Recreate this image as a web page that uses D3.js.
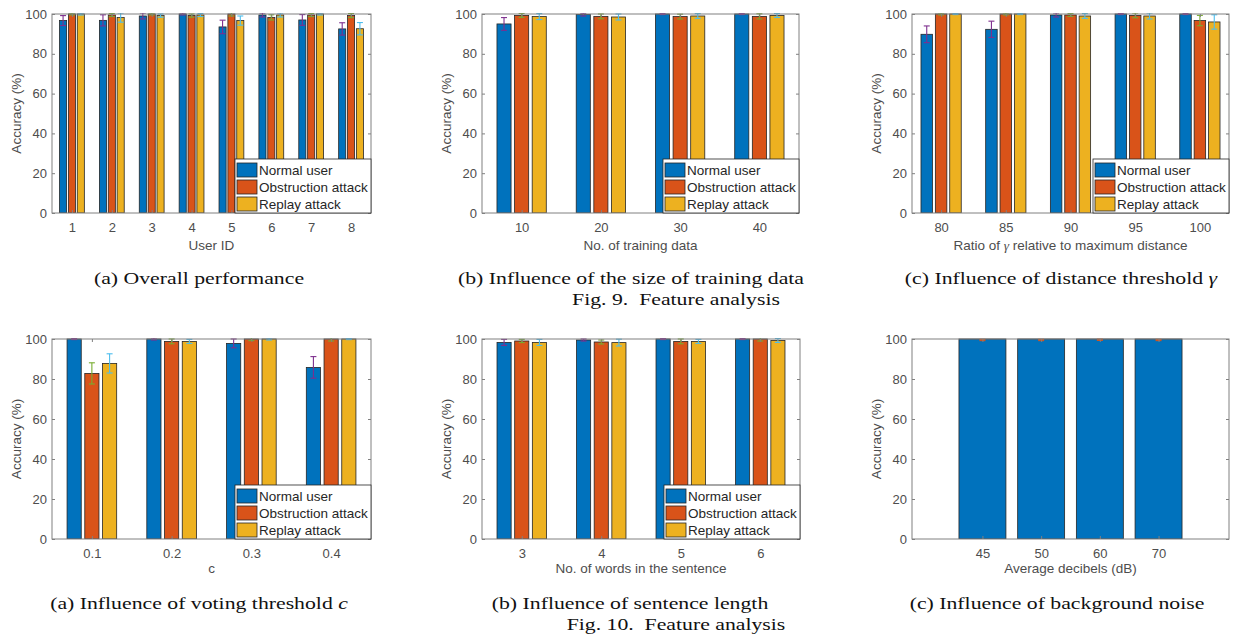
<!DOCTYPE html>
<html>
<head>
<meta charset="utf-8">
<script src="https://cdn.jsdelivr.net/npm/d3@7"></script>
<style>
  body { margin: 0; background: #fff; }
  svg { display: block; }
</style>
</head>
<body>
<svg id="fig" width="1233" height="635"></svg>
<script>
// series shared by the grouped panels
var seriesNames = ["Normal user", "Obstruction attack", "Replay attack"];

// Fig. 9 (a) overall performance
var userIds = ["1", "2", "3", "4", "5", "6", "7", "8"];
var userAcc = [
  [96.7, 96.8, 99.0, 100, 93.5, 99.5, 97.0, 92.5],
  [100, 99.5, 100, 99.2, 100, 98.3, 99.5, 99.2],
  [100, 98.2, 99.2, 99.5, 96.7, 99.5, 100, 92.6]
];
var userErr = [
  [2.5, 2.8, 1.5, 0.5, 3.4, 1.0, 2.7, 3.1],
  [0.5, 0.8, 0.5, 0.8, 1.0, 1.3, 0.8, 1.0],
  [0.5, 2.3, 0.8, 0.8, 2.3, 1.0, 0.5, 3.1]
];

// Fig. 9 (b) size of training data
var trainSizes = ["10", "20", "30", "40"];
var trainAcc = [
  [95.0, 99.7, 100, 100],
  [99.3, 98.8, 98.7, 98.8],
  [98.7, 98.5, 99.0, 99.3]
];
var trainErr = [
  [3.2, 0.7, 0.3, 0.3],
  [1.0, 1.2, 1.2, 1.3],
  [1.5, 1.5, 1.2, 1.0]
];

// Fig. 9 (c) distance threshold
var gammaRatios = ["80", "85", "90", "95", "100"];
var gammaAcc = [
  [89.8, 92.3, 99.5, 100, 100],
  [100, 100, 99.5, 99.3, 96.7],
  [100, 100, 99.0, 99.0, 96.0]
];
var gammaErr = [
  [4.2, 4.1, 1.0, 0.3, 0.3],
  [0.5, 0.5, 0.7, 1.2, 2.6],
  [0.3, 0.3, 1.2, 1.5, 3.6]
];

// Fig. 10 (a) voting threshold
var votingC = ["0.1", "0.2", "0.3", "0.4"];
var votingAcc = [
  [100, 100, 97.8, 85.8],
  [82.8, 98.8, 100, 100],
  [87.8, 98.8, 100, 100]
];
var votingErr = [
  [0.3, 0.5, 2.2, 5.4],
  [5.3, 1.2, 0.8, 1.0],
  [4.8, 1.0, 0.5, 0.3]
];

// Fig. 10 (b) sentence length
var wordCounts = ["3", "4", "5", "6"];
var wordAcc = [
  [98.3, 99.5, 100, 100],
  [99.0, 98.5, 98.8, 100],
  [98.3, 98.2, 98.8, 99.3]
];
var wordErr = [
  [1.5, 0.5, 0.3, 0.3],
  [0.8, 1.0, 1.2, 1.0],
  [1.5, 1.7, 1.0, 1.0]
];

// Fig. 10 (c) background noise
var noiseDb = ["45", "50", "60", "70"];
var noiseAcc = [[100, 100, 100, 100]];
var noiseMark = [99.5, 99.5, 99.6, 99.5];
var noiseErr = [0.3, 0.3, 0.3, 0.3];

var yTicks = [0, 20, 40, 60, 80, 100];

var panels = [
  {cats: userIds, means: userAcc, errs: userErr, xlabel: "User ID"},
  {cats: trainSizes, means: trainAcc, errs: trainErr, xlabel: "No. of training data"},
  {cats: gammaRatios, means: gammaAcc, errs: gammaErr, xlabel: ["Ratio of ", "\u03B3", " relative to maximum distance"]},
  {cats: votingC, means: votingAcc, errs: votingErr, xlabel: "c"},
  {cats: wordCounts, means: wordAcc, errs: wordErr, xlabel: "No. of words in the sentence"},
  {cats: noiseDb, means: noiseAcc, errMeans: [noiseMark], errs: [noiseErr], xlabel: "Average decibels (dB)"}
];

var layout = [
  {left: 52, top: 14, w: 319, h: 199, xlim: [0.5, 8.5], legend: true, labelDy: 37},
  {left: 482, top: 14, w: 317, h: 199, xlim: [0.5, 4.5], legend: true, labelDy: 37},
  {left: 912, top: 14, w: 317, h: 199, xlim: [0.55, 5.45], legend: true, labelDy: 37},
  {left: 52, top: 339, w: 319, h: 200, xlim: [0.5, 4.5], legend: true, labelDy: 34},
  {left: 482, top: 339, w: 318, h: 200, xlim: [0.5, 4.5], legend: true, labelDy: 34},
  {left: 912, top: 339, w: 317, h: 200, xlim: [-0.2, 5.2], legend: false, labelDy: 34,
   barColors: ["#0072BD"], errColors: ["#D95319"]}
];

var barColors = ["#0072BD", "#D95319", "#EDB120"];
var errColors = ["#7E2F8E", "#77AC30", "#4DBEEE"];
var axisColor = "#808080";
var textColor = "#4d4d4d";
var font = "'Liberation Sans', Arial, sans-serif";

var captions = [
  {x: 199, y: 284, parts: [["(a) Overall performance", false]]},
  {x: 631, y: 284, parts: [["(b) Influence of the size of training data", false]]},
  {x: 1061, y: 284, parts: [["(c) Influence of distance threshold ", false], ["\u03B3", true]]},
  {x: 676, y: 305, parts: [["Fig. 9.\u00A0 Feature analysis", false]]},
  {x: 199, y: 609, parts: [["(a) Influence of voting threshold ", false], ["c", true]]},
  {x: 630, y: 609, parts: [["(b) Influence of sentence length", false]]},
  {x: 1057, y: 609, parts: [["(c) Influence of background noise", false]]},
  {x: 676, y: 630, parts: [["Fig. 10.\u00A0 Feature analysis", false]]}
];

var svg = d3.select("#fig");
var defs = svg.append("defs");

function drawPanel(idx, p, L) {
  var g = svg.append("g").attr("transform", "translate(" + L.left + "," + L.top + ")");
  var x = d3.scaleLinear().domain(L.xlim).range([0, L.w]);
  var y = d3.scaleLinear().domain([0, 100]).range([L.h, 0]);
  var nS = p.means.length;
  var offsets = nS === 1 ? [0] : [-0.2222, 0, 0.2222];
  var bw = nS === 1 ? 0.8 : 0.1778;
  var bc = L.barColors || barColors;
  var ec = L.errColors || errColors;

  defs.append("clipPath").attr("id", "clip" + idx)
    .append("rect").attr("x", 0).attr("y", -1).attr("width", L.w).attr("height", L.h + 1);

  var plot = g.append("g").attr("clip-path", "url(#clip" + idx + ")");

  p.means.forEach(function (row, s) {
    plot.selectAll(".bar" + s)
      .data(row)
      .enter()
      .append("rect")
        .attr("class", "bar" + s)
        .attr("x", (d, i) => x(i + 1 + offsets[s] - bw / 2))
        .attr("width", x(bw) - x(0))
        .attr("y", d => y(d))
        .attr("height", d => y(0) - y(d))
        .attr("fill", bc[s])
        .attr("stroke", "#262626")
        .attr("stroke-width", 0.8);
  });

  var errMeans = p.errMeans || p.means;
  p.errs.forEach(function (row, s) {
    var eg = plot.append("g").attr("stroke", ec[s]).attr("stroke-width", 1.1);
    row.forEach(function (e, i) {
      var cx = x(i + 1 + offsets[s]);
      var m = errMeans[s][i];
      eg.append("line").attr("x1", cx).attr("x2", cx).attr("y1", y(m - e)).attr("y2", y(m + e));
      eg.append("line").attr("x1", cx - 3).attr("x2", cx + 3).attr("y1", y(m - e)).attr("y2", y(m - e));
      eg.append("line").attr("x1", cx - 3).attr("x2", cx + 3).attr("y1", y(m + e)).attr("y2", y(m + e));
    });
  });

  var xt = d3.range(1, p.cats.length + 1);
  var axes = [
    g.append("g").attr("transform", "translate(0," + L.h + ")")
      .call(d3.axisBottom(x).tickValues(xt).tickFormat(i => p.cats[i - 1]).tickSizeInner(-3).tickSizeOuter(0).tickPadding(9.5)),
    g.append("g")
      .call(d3.axisTop(x).tickValues(xt).tickFormat("").tickSizeInner(-3).tickSizeOuter(0)),
    g.append("g")
      .call(d3.axisLeft(y).tickValues(yTicks).tickSizeInner(-3).tickSizeOuter(0).tickPadding(5)),
    g.append("g").attr("transform", "translate(" + L.w + ",0)")
      .call(d3.axisRight(y).tickValues(yTicks).tickFormat("").tickSizeInner(-3).tickSizeOuter(0))
  ];
  axes.forEach(function (a) {
    a.select(".domain").remove();
    a.selectAll(".tick line").attr("stroke", axisColor);
    a.selectAll(".tick text").attr("fill", textColor).attr("font-size", 13).attr("font-family", font);
  });

  g.append("rect")
    .attr("width", L.w).attr("height", L.h)
    .attr("fill", "none").attr("stroke", axisColor).attr("stroke-width", 1);

  // y label
  g.append("text")
    .attr("transform", "translate(-36," + (L.h / 2) + ") rotate(-90)")
    .attr("dy", "0.35em")
    .attr("text-anchor", "middle")
    .attr("font-family", font).attr("font-size", 13.5).attr("fill", textColor)
    .text("Accuracy (%)");

  // x label
  var xl = g.append("text")
    .attr("x", L.w / 2).attr("y", L.h + L.labelDy)
    .attr("text-anchor", "middle")
    .attr("font-family", font).attr("font-size", 13.5).attr("fill", textColor);
  if (Array.isArray(p.xlabel)) {
    xl.append("tspan").text(p.xlabel[0]);
    xl.append("tspan").attr("font-family", "'Liberation Serif', serif").attr("font-style", "italic").text(p.xlabel[1]);
    xl.append("tspan").text(p.xlabel[2]);
  } else {
    xl.text(p.xlabel);
  }

  if (L.legend) {
    var lg = g.append("g").attr("transform", "translate(" + (L.w - 136) + "," + (L.h - 54) + ")");
    lg.append("rect").attr("width", 136).attr("height", 54)
      .attr("fill", "#fff").attr("stroke", "#262626").attr("stroke-width", 0.8);
    seriesNames.forEach(function (name, s) {
      lg.append("rect")
        .attr("x", 2).attr("y", 4 + s * 17)
        .attr("width", 20).attr("height", 14)
        .attr("fill", barColors[s]).attr("stroke", "#262626").attr("stroke-width", 0.8);
      lg.append("text")
        .attr("x", 24).attr("y", 11 + s * 17)
        .attr("dy", "0.35em")
        .attr("font-family", font).attr("font-size", 13.5).attr("fill", "#262626")
        .text(name);
    });
  }
}

panels.forEach(function (p, i) { drawPanel(i, p, layout[i]); });

// sub-figure captions
captions.forEach(function (c) {
  var t = svg.append("g")
    .attr("transform", "translate(" + c.x + "," + c.y + ") scale(1.28,1)")
    .append("text")
      .attr("text-anchor", "middle")
      .attr("font-family", "'Liberation Serif', 'Times New Roman', serif")
      .attr("font-size", 17)
      .attr("fill", "#111");
  c.parts.forEach(function (part) {
    var sp = t.append("tspan").text(part[0]);
    if (part[1]) sp.attr("font-style", "italic");
  });
});
</script>
</body>
</html>
